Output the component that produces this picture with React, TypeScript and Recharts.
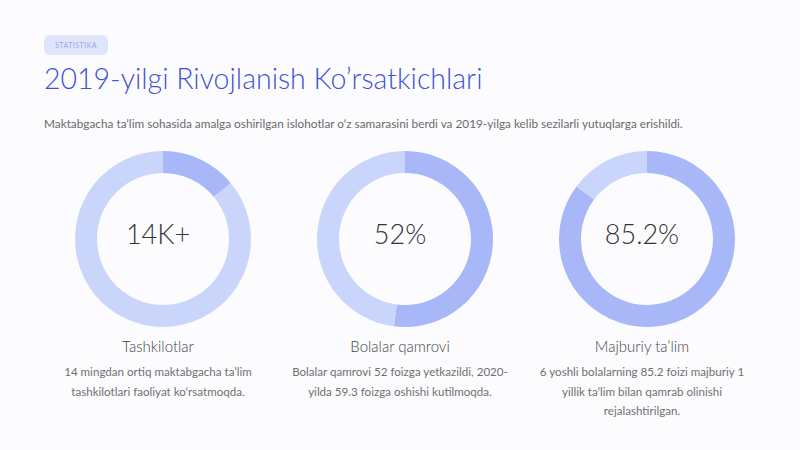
import React from 'react';
import { PieChart, Pie, Cell, Label } from 'recharts';

const categories = ['Tashkilotlar', 'Bolalar qamrovi', 'Majburiy ta’lim'];
const values = [14, 52, 85.2];
const totals = [100, 100, 100];
const centerLabels = ['14K+', '52%', '85.2%'];
const descriptions = [
  ['14 mingdan ortiq maktabgacha ta’lim', 'tashkilotlari faoliyat ko‘rsatmoqda.'],
  ['Bolalar qamrovi 52 foizga yetkazildi, 2020-', 'yilda 59.3 foizga oshishi kutilmoqda.'],
  ['6 yoshli bolalarning 85.2 foizi majburiy 1', 'yillik ta’lim bilan qamrab olinishi', 'rejalashtirilgan.'],
];

const FONT = 'Lato, "Open Sans", sans-serif';
const ACTIVE = '#a7b7f8';
const REST = '#cad5fb';

function Donut({ idx }: { idx: number }) {
  const data = [
    { name: 'value', v: values[idx] },
    { name: 'rest', v: totals[idx] - values[idx] },
  ];
  return (
    <PieChart width={200} height={200}>
      <Pie
        data={data}
        dataKey="v"
        cx={100}
        cy={100}
        innerRadius={66}
        outerRadius={88}
        startAngle={90}
        endAngle={-270}
        stroke="none"
        isAnimationActive={false}
      >
        <Cell fill={ACTIVE} />
        <Cell fill={REST} />
        <Label
          value={centerLabels[idx]}
          position="center"
          fill="#333"
          style={{ fontFamily: FONT, fontSize: 27, fontWeight: 300 }}
        />
      </Pie>
    </PieChart>
  );
}

export default function App() {
  const centers = [158, 400, 642];
  return (
    <div
      style={{
        position: 'absolute',
        left: 0,
        top: 0,
        width: 800,
        height: 450,
        background: '#fcfcff',
        fontFamily: FONT,
        overflow: 'hidden',
      }}
    >
      <div
        style={{
          position: 'absolute',
          left: 44,
          top: 35,
          width: 64,
          height: 20,
          borderRadius: 6,
          background: '#dfe5fb',
          color: '#9aa8e8',
          fontSize: 7,
          letterSpacing: 0.5,
          lineHeight: '20px',
          textAlign: 'center',
        }}
      >
        STATISTIKA
      </div>
      <div
        style={{
          position: 'absolute',
          left: 44,
          top: 61,
          fontSize: 28.5,
          fontWeight: 300,
          color: '#3f52d6',
          whiteSpace: 'nowrap',
        }}
      >
        2019-yilgi Rivojlanish Ko’rsatkichlari
      </div>
      <div
        style={{
          position: 'absolute',
          left: 44,
          top: 116,
          fontSize: 11.8,
          color: '#6a6a6a',
          whiteSpace: 'nowrap',
        }}
      >
        Maktabgacha ta’lim sohasida amalga oshirilgan islohotlar o‘z samarasini berdi va 2019-yilga kelib sezilarli yutuqlarga erishildi.
      </div>
      {categories.map((c, i) => (
        <React.Fragment key={c}>
          <div style={{ position: 'absolute', left: centers[i] - 100, top: 134 }}>
            <Donut idx={i} />
          </div>
          <div
            style={{
              position: 'absolute',
              left: centers[i] - 120,
              top: 337,
              width: 240,
              textAlign: 'center',
              fontSize: 15,
              color: '#444',
              fontWeight: 300,
            }}
          >
            {c}
          </div>
          <div
            style={{
              position: 'absolute',
              left: centers[i] - 120,
              top: 362,
              width: 240,
              textAlign: 'center',
              fontSize: 11.6,
              lineHeight: '19.5px',
              color: '#707070',
            }}
          >
            {descriptions[i].map((l) => (
              <div key={l}>{l}</div>
            ))}
          </div>
        </React.Fragment>
      ))}
    </div>
  );
}
